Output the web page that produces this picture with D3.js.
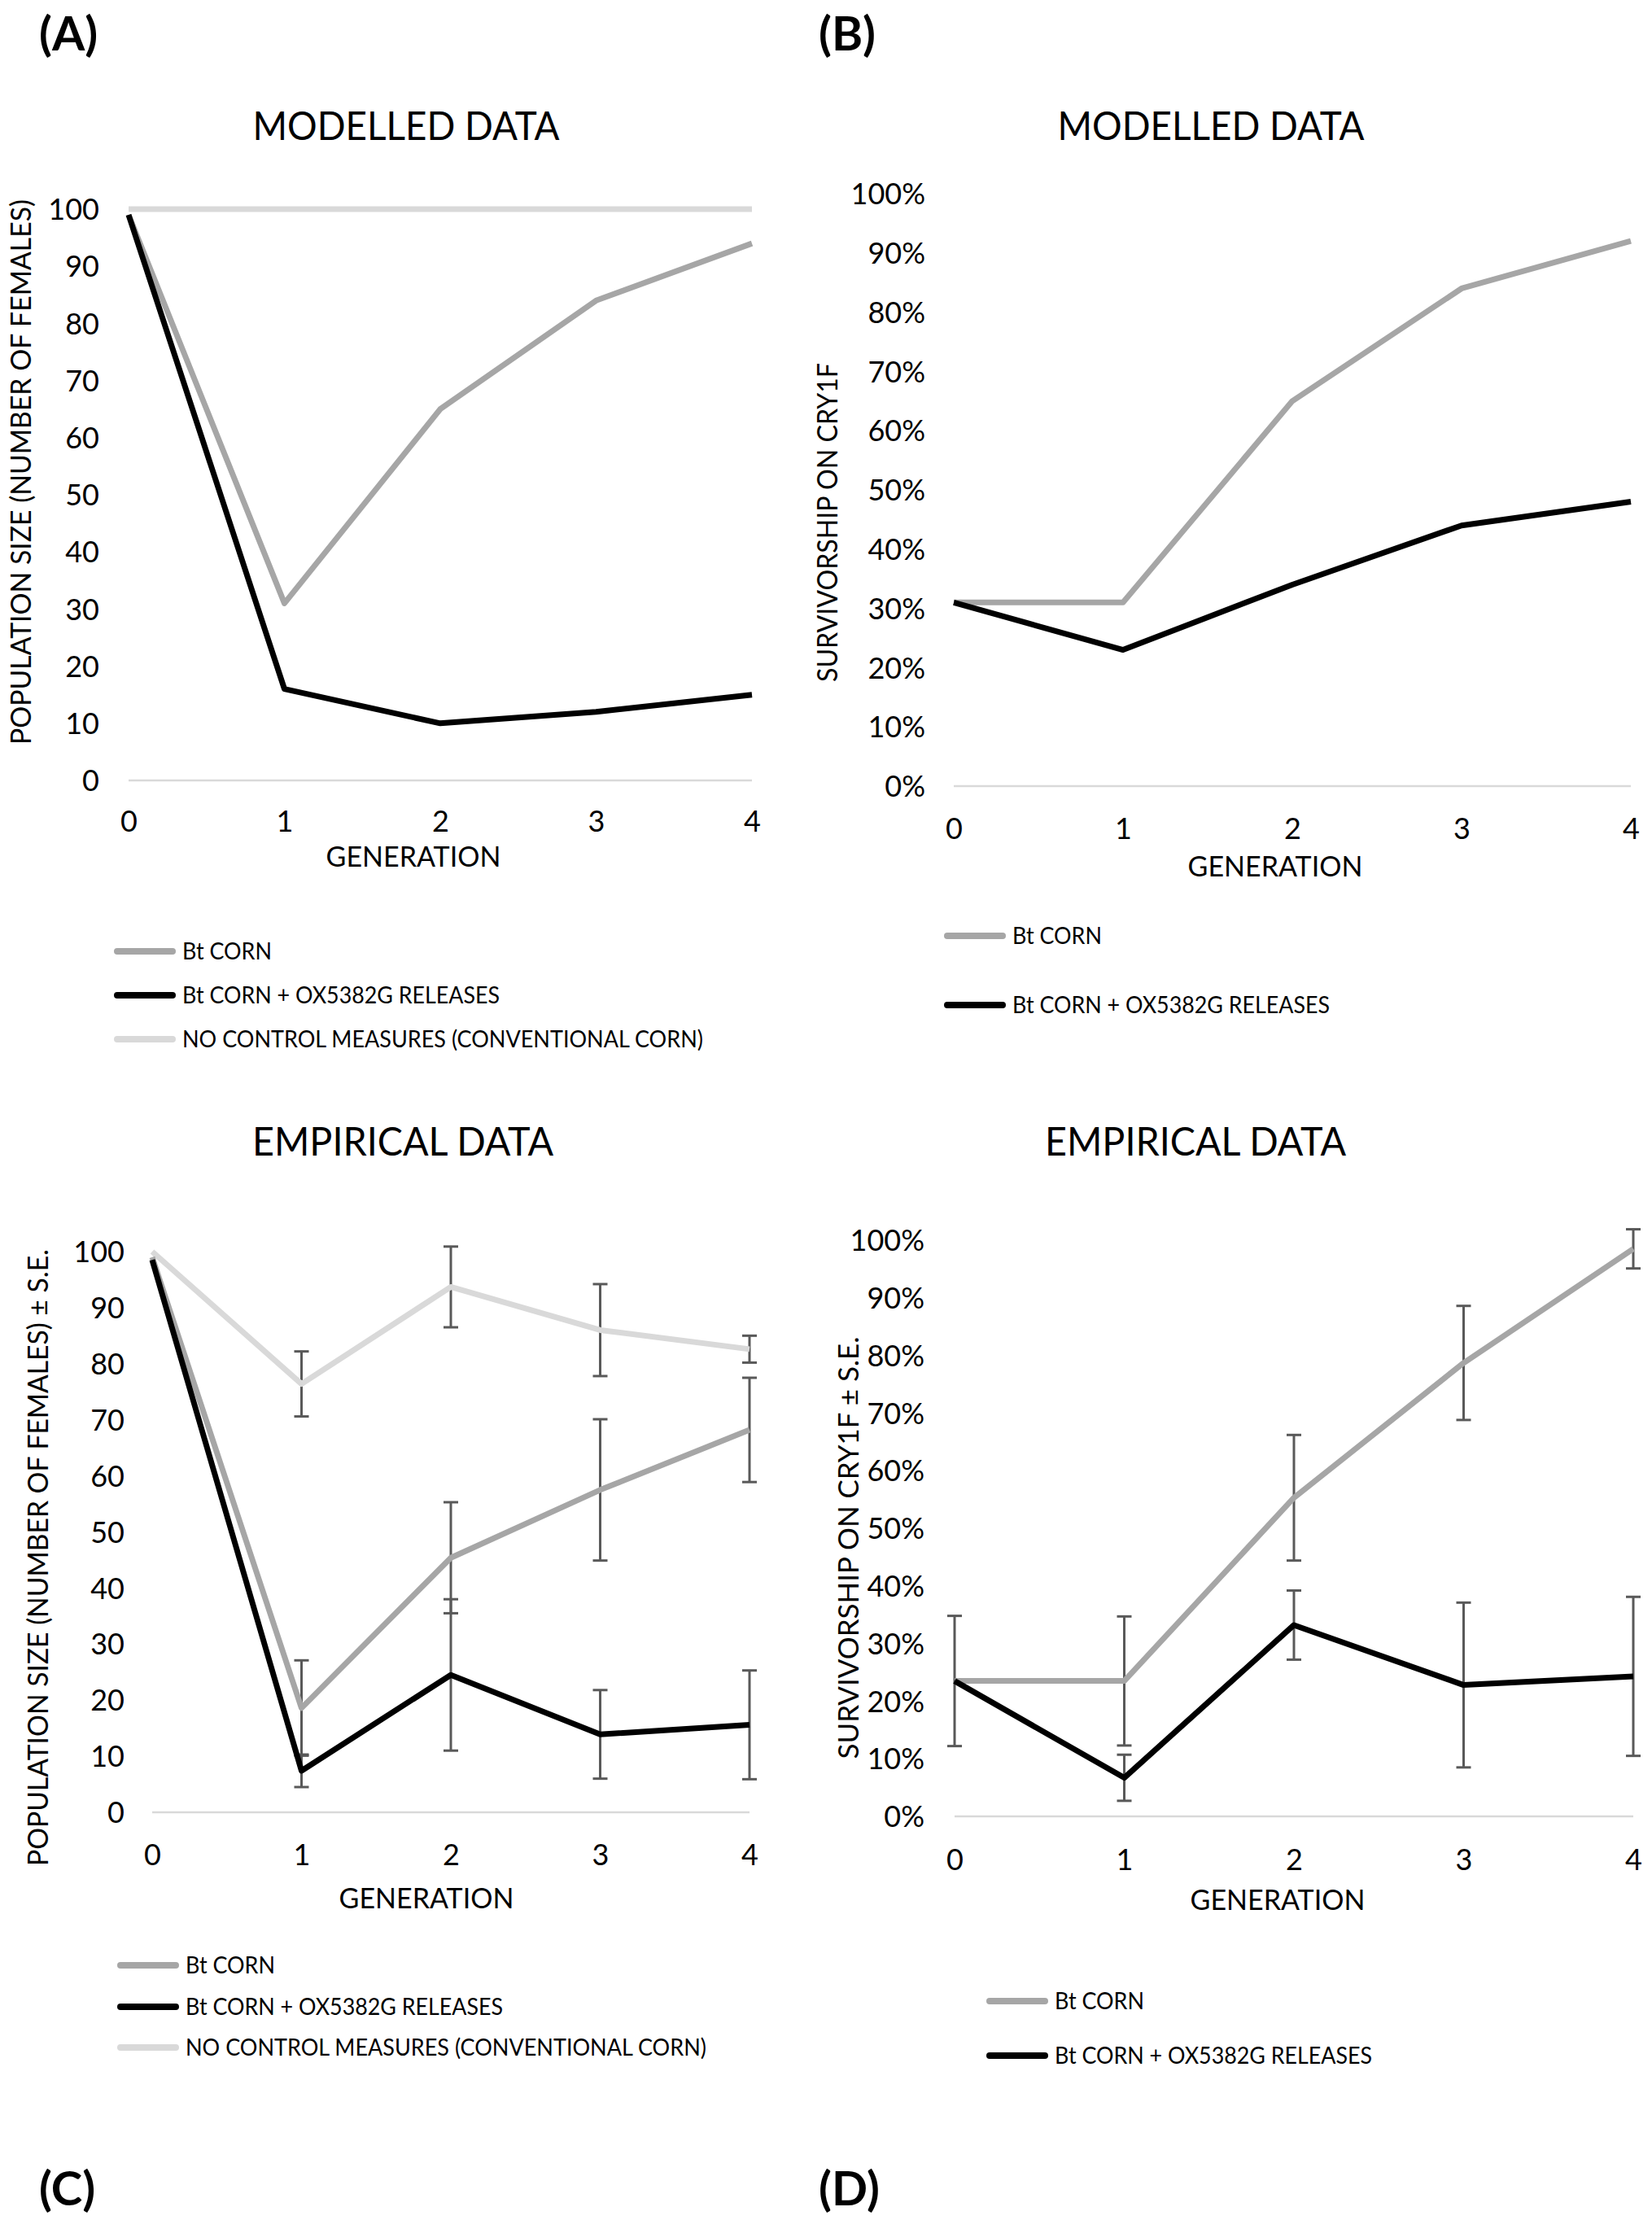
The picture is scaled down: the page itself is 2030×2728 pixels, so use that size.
<!DOCTYPE html>
<html>
<head>
<meta charset="utf-8">
<script src="https://cdn.jsdelivr.net/npm/d3@7"></script>
<style>
  html, body { margin: 0; padding: 0; background: #fff; }
  svg text { font-family: Lato, "Open Sans", sans-serif; fill: #000; }
</style>
</head>
<body>
<div id="chart"></div>
<script>
// Generations on the x axis
const generations = [0, 1, 2, 3, 4];

// Series names
const btName = 'Bt CORN';
const oxName = 'Bt CORN + OX5382G RELEASES';
const ncName = 'NO CONTROL MEASURES (CONVENTIONAL CORN)';

// (A) modelled population size
const modelPopBt = [99, 31, 65, 84, 94];
const modelPopOx = [99, 16, 10, 12, 15];
const modelPopNc = [100, 100, 100, 100, 100];

// (B) modelled survivorship (%)
const modelSurvBt = [31, 31, 65, 84, 92];
const modelSurvOx = [31, 23, 34, 44, 48];

// (C) empirical population size, mean and S.E.
const empPopNc = [100, 76.4, 93.7, 86, 82.6];
const empPopNcSe = [0, 5.8, 7.2, 8.2, 2.4];
const empPopBt = [99, 18.6, 45.4, 57.5, 68.2];
const empPopBtSe = [0, 8.5, 9.9, 12.6, 9.3];
const empPopOx = [98.5, 7.4, 24.5, 13.9, 15.6];
const empPopOxSe = [0, 2.9, 13.5, 7.9, 9.7];

// (D) empirical survivorship (%), mean and S.E.
const empSurvBt = [23.5, 23.5, 55.3, 78.7, 98.5];
const empSurvBtSe = [11.3, 11.2, 10.9, 9.9, 3.4];
const empSurvOx = [23.5, 6.7, 33.2, 22.8, 24.3];
const empSurvOxSe = [0, 4, 6, 14.3, 13.8];

// tick labels
const popTicks = [0, 10, 20, 30, 40, 50, 60, 70, 80, 90, 100];
const pctTicks = [0, 10, 20, 30, 40, 50, 60, 70, 80, 90, 100];

const colors = { bt: '#a6a6a6', ox: '#000000', nc: '#d9d9d9' };

const W = 2030, H = 2728;
const svg = d3.select('#chart').append('svg')
    .attr('width', W)
    .attr('height', H);

function drawPanel(p) {
    const x = d3.scaleLinear().domain([0, 4]).range([p.x0, p.x1]);
    const y = d3.scaleLinear().domain([0, 100]).range([p.y0, p.y1]);
    const g = svg.append('g');

    // title
    g.append('text')
        .attr('x', p.titleX).attr('y', p.titleY)
        .attr('text-anchor', 'middle')
        .style('font-size', '49px')
        .attr('textLength', p.titleW)
        .attr('lengthAdjust', 'spacingAndGlyphs')
        .text(p.title);

    // baseline
    g.append('line')
        .attr('x1', x(0)).attr('x2', x(4))
        .attr('y1', y(0)).attr('y2', y(0))
        .attr('stroke', '#d9d9d9').attr('stroke-width', 2.5);

    // y axis labels
    const yAxis = d3.axisLeft(y)
        .tickValues(p.yTicks)
        .tickSize(0)
        .tickPadding(0)
        .tickFormat(p.pct ? d => d + '%' : d => d);
    const ya = g.append('g')
        .attr('transform', `translate(${p.yLabelX},0)`)
        .call(yAxis);
    ya.select('.domain').remove();
    ya.selectAll('text')
        .style('font-size', '36px')
        .attr('fill', '#000')
        .attr('dy', '0.35em');

    // x axis labels
    const xAxis = d3.axisBottom(x)
        .tickValues(generations)
        .tickSize(0)
        .tickPadding(0)
        .tickFormat(d => d);
    const xa = g.append('g')
        .attr('transform', `translate(0,${p.xLabelY})`)
        .call(xAxis);
    xa.select('.domain').remove();
    xa.selectAll('text')
        .style('font-size', '36px')
        .attr('fill', '#000')
        .attr('dy', '0.35em');

    // axis titles
    g.append('text')
        .attr('x', p.xTitleX).attr('y', p.xTitleY)
        .attr('dy', '0.35em')
        .attr('text-anchor', 'middle')
        .style('font-size', '34px')
        .text('GENERATION');

    g.append('text')
        .attr('transform', `translate(${p.yTitleX},${p.yTitleY}) rotate(-90)`)
        .attr('dy', '0.35em')
        .attr('text-anchor', 'middle')
        .style('font-size', '34px')
        .attr('textLength', p.yTitleW)
        .attr('lengthAdjust', 'spacingAndGlyphs')
        .text(p.yTitle);

    const line = d3.line()
        .x((d, i) => x(generations[i]))
        .y(d => y(d));

    // error bars under the lines
    p.series.forEach(s => {
        if (!s.se) return;
        generations.forEach((gen, i) => {
            const se = s.se[i];
            if (!se) return;
            const lo = Math.max(0, s.values[i] - se);
            const hi = s.values[i] + se;
            const cap = 9;
            const eb = g.append('g')
                .attr('stroke', '#595959')
                .attr('stroke-width', 3);
            eb.append('line')
                .attr('x1', x(gen)).attr('x2', x(gen))
                .attr('y1', y(lo)).attr('y2', y(hi));
            eb.append('line')
                .attr('x1', x(gen) - cap).attr('x2', x(gen) + cap)
                .attr('y1', y(lo)).attr('y2', y(lo));
            eb.append('line')
                .attr('x1', x(gen) - cap).attr('x2', x(gen) + cap)
                .attr('y1', y(hi)).attr('y2', y(hi));
        });
    });

    // series lines, drawn in the order given
    p.series.forEach(s => {
        g.append('path')
            .datum(s.values)
            .attr('d', line)
            .attr('fill', 'none')
            .attr('stroke', s.color)
            .attr('stroke-width', 7)
            .attr('stroke-linejoin', 'round');
    });

    // legend
    p.legend.forEach((item, i) => {
        const ly = p.legendY[i];
        g.append('line')
            .attr('x1', p.legendX).attr('x2', p.legendX + 68)
            .attr('y1', ly).attr('y2', ly)
            .attr('stroke', item.color)
            .attr('stroke-width', 8)
            .attr('stroke-linecap', 'round');
        g.append('text')
            .attr('x', p.legendX + 80).attr('y', ly)
            .attr('dy', '0.35em')
            .style('font-size', '28px')
            .attr('textLength', item.w)
            .attr('lengthAdjust', 'spacingAndGlyphs')
            .text(item.name);
    });

    // panel letter
    g.append('text')
        .attr('x', p.letterX).attr('y', p.letterY)
        .attr('dy', '0.35em')
        .style('font-size', '58px')
        .style('font-weight', 'bold')
        .text(p.letter);
}

const legend3 = [
    { name: btName, color: colors.bt, w: 110 },
    { name: oxName, color: colors.ox, w: 390 },
    { name: ncName, color: colors.nc, w: 640 }
];
const legend2 = legend3.slice(0, 2);

drawPanel({
    letter: '(A)', letterX: 48, letterY: 42,
    title: 'MODELLED DATA', titleX: 499, titleY: 172, titleW: 377,
    x0: 158, x1: 924, y0: 959, y1: 257,
    yTicks: popTicks, pct: false, yLabelX: 122,
    xLabelY: 1009, xTitleX: 508, xTitleY: 1053,
    yTitle: 'POPULATION SIZE (NUMBER OF FEMALES)', yTitleX: 26, yTitleY: 580, yTitleW: 670,
    series: [
        { values: modelPopNc, color: colors.nc },
        { values: modelPopBt, color: colors.bt },
        { values: modelPopOx, color: colors.ox }
    ],
    legend: legend3, legendX: 144, legendY: [1169, 1223, 1277]
});

drawPanel({
    letter: '(B)', letterX: 1006, letterY: 42,
    title: 'MODELLED DATA', titleX: 1488, titleY: 172, titleW: 377,
    x0: 1172, x1: 2004, y0: 966, y1: 238,
    yTicks: pctTicks, pct: true, yLabelX: 1137,
    xLabelY: 1018, xTitleX: 1567, xTitleY: 1065,
    yTitle: 'SURVIVORSHIP ON CRY1F', yTitleX: 1017, yTitleY: 642, yTitleW: 392,
    series: [
        { values: modelSurvBt, color: colors.bt },
        { values: modelSurvOx, color: colors.ox }
    ],
    legend: legend2, legendX: 1164, legendY: [1150, 1235]
});

drawPanel({
    letter: '(C)', letterX: 48, letterY: 2690,
    title: 'EMPIRICAL DATA', titleX: 495, titleY: 1420, titleW: 370,
    x0: 187, x1: 921, y0: 2227, y1: 1538,
    yTicks: popTicks, pct: false, yLabelX: 153,
    xLabelY: 2279, xTitleX: 524, xTitleY: 2333,
    yTitle: 'POPULATION SIZE (NUMBER OF FEMALES) \u00b1 S.E.', yTitleX: 47, yTitleY: 1914, yTitleW: 758,
    series: [
        { values: empPopNc, se: empPopNcSe, color: colors.nc },
        { values: empPopBt, se: empPopBtSe, color: colors.bt },
        { values: empPopOx, se: empPopOxSe, color: colors.ox }
    ],
    legend: legend3, legendX: 148, legendY: [2415, 2466, 2516]
});

drawPanel({
    letter: '(D)', letterX: 1006, letterY: 2690,
    title: 'EMPIRICAL DATA', titleX: 1469, titleY: 1420, titleW: 370,
    x0: 1173, x1: 2007, y0: 2232, y1: 1524,
    yTicks: pctTicks, pct: true, yLabelX: 1136,
    xLabelY: 2285, xTitleX: 1570, xTitleY: 2335,
    yTitle: 'SURVIVORSHIP ON CRY1F \u00b1 S.E.', yTitleX: 1043, yTitleY: 1902, yTitleW: 519,
    series: [
        { values: empSurvBt, se: empSurvBtSe, color: colors.bt },
        { values: empSurvOx, se: empSurvOxSe, color: colors.ox }
    ],
    legend: legend2, legendX: 1216, legendY: [2459, 2526]
});
</script>
</body>
</html>
